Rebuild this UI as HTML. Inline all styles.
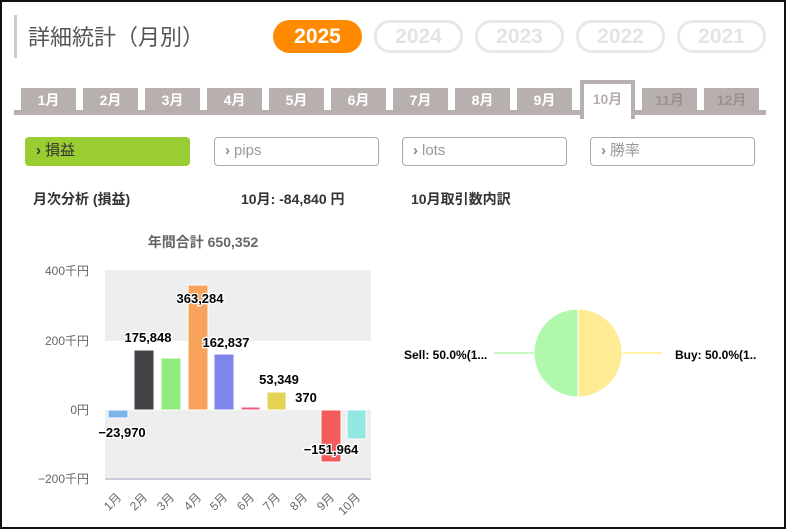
<!DOCTYPE html>
<html><head><meta charset="utf-8"><style>
body{margin:0;width:786px;height:529px;overflow:hidden;background:#fff;font-family:"Liberation Sans","Noto Sans CJK JP",sans-serif;}
.frame{position:absolute;left:0;top:0;width:782px;height:525px;border:2px solid #111;}
.a{position:absolute;}
.pill{position:absolute;top:20px;width:83px;height:27px;border:3px solid #e8e8e8;border-radius:16px;color:#e4e4e4;font-weight:bold;font-size:21px;text-align:center;line-height:27px;}
.tab{position:absolute;top:88px;width:55px;height:22px;background:#b8b0ae;color:#fff;font-weight:bold;font-size:14px;text-align:center;line-height:24px;}
.btn{position:absolute;top:137px;width:163px;height:27px;border:1px solid #aaa;border-radius:4px;color:#999;font-size:15px;line-height:25px;box-sizing:content-box;}
.btn span{font-weight:bold;margin:0 4px 0 10px;color:#888;}
</style></head><body>
<div class="frame"></div>
<div class="a" style="left:14px;top:15px;width:3px;height:43px;background:#ccc"></div>
<div class="a" style="left:28px;top:20px;font-size:22px;color:#555">詳細統計（月別）</div>
<div class="a" style="left:273px;top:20px;width:89px;height:33px;background:#ff8a00;border-radius:17px;color:#fff;font-weight:bold;font-size:21px;text-align:center;line-height:33px">2025</div>
<div class="pill" style="left:374px">2024</div>
<div class="pill" style="left:475px">2023</div>
<div class="pill" style="left:576px">2022</div>
<div class="pill" style="left:677px">2021</div>
<div class="a" style="left:14px;top:110px;width:752px;height:5px;background:#b8b0ae"></div>
<div class="tab" style="left:21px">1月</div>
<div class="tab" style="left:83px">2月</div>
<div class="tab" style="left:145px">3月</div>
<div class="tab" style="left:207px">4月</div>
<div class="tab" style="left:269px">5月</div>
<div class="tab" style="left:331px">6月</div>
<div class="tab" style="left:393px">7月</div>
<div class="tab" style="left:455px">8月</div>
<div class="tab" style="left:517px">9月</div>
<div class="a" style="left:580px;top:80px;width:47px;height:35px;border:4px solid #b8b0ae;border-bottom:none;background:#fff;color:#b8b0ae;font-weight:bold;font-size:14px;text-align:center;line-height:30px">10月</div>
<div class="tab" style="left:642px;color:#9a9290">11月</div>
<div class="tab" style="left:704px;color:#9a9290">12月</div>
<div class="btn" style="left:25px;background:#9acd32;border-color:#9acd32;color:#333"><span style="color:#333">›</span>損益</div>
<div class="btn" style="left:214px"><span>›</span>pips</div>
<div class="btn" style="left:402px"><span>›</span>lots</div>
<div class="btn" style="left:590px"><span>›</span>勝率</div>
<div class="a" style="left:33px;top:189px;font-size:14px;font-weight:bold;color:#333">月次分析 (損益)</div>
<div class="a" style="left:241px;top:189px;font-size:14px;font-weight:bold;color:#333">10月:  -84,840 円</div>
<div class="a" style="left:411px;top:189px;font-size:14px;font-weight:bold;color:#333">10月取引数内訳</div>
<svg class="a" style="left:0;top:0" width="786" height="529" font-family="Liberation Sans,Noto Sans CJK JP,sans-serif">
<text x="203" y="247" text-anchor="middle" font-size="14" font-weight="bold" fill="#666">年間合計 650,352</text>
<rect x="105" y="270" width="266" height="71" fill="#eeeeee"/>
<rect x="105" y="410" width="266" height="69" fill="#eeeeee"/>
<line x1="105" y1="479" x2="371" y2="479" stroke="#ccd" stroke-width="2"/>
<g font-size="12" fill="#666" text-anchor="end">
<text x="89" y="275">400千円</text><text x="89" y="345">200千円</text><text x="89" y="414">0円</text><text x="89" y="483">−200千円</text></g>
<g stroke="#fff" stroke-width="1">
<rect x="108" y="410" width="20" height="8" fill="#7cb5ec"/>
<rect x="134" y="350" width="20" height="60" fill="#434348"/>
<rect x="161" y="358" width="20" height="52" fill="#90ed7d"/>
<rect x="188" y="285" width="20" height="125" fill="#f7a35c"/>
<rect x="214" y="354" width="20" height="56" fill="#8085e9"/>
<rect x="241" y="407" width="19" height="3" fill="#f15c80"/>
<rect x="267" y="392" width="19" height="18" fill="#e4d354"/>
<rect x="321" y="410" width="20" height="52" fill="#f45b5b"/>
<rect x="347" y="410" width="19" height="29" fill="#91e8e1"/>
</g>
<g font-size="13" font-weight="bold" fill="#000" stroke="#fff" stroke-width="2.5" paint-order="stroke" text-anchor="middle">
<text x="122" y="437">−23,970</text>
<text x="148" y="342">175,848</text>
<text x="200" y="303">363,284</text>
<text x="226" y="347">162,837</text>
<text x="279" y="384">53,349</text>
<text x="306" y="402">370</text>
<text x="331" y="454">−151,964</text>
</g>
<g font-size="12" fill="#666">
<text transform="translate(122,498) rotate(-45)" text-anchor="end">1月</text>
<text transform="translate(148,498) rotate(-45)" text-anchor="end">2月</text>
<text transform="translate(175,498) rotate(-45)" text-anchor="end">3月</text>
<text transform="translate(202,498) rotate(-45)" text-anchor="end">4月</text>
<text transform="translate(228,498) rotate(-45)" text-anchor="end">5月</text>
<text transform="translate(255,498) rotate(-45)" text-anchor="end">6月</text>
<text transform="translate(281,498) rotate(-45)" text-anchor="end">7月</text>
<text transform="translate(308,498) rotate(-45)" text-anchor="end">8月</text>
<text transform="translate(335,498) rotate(-45)" text-anchor="end">9月</text>
<text transform="translate(361,498) rotate(-45)" text-anchor="end">10月</text>
</g>
<line x1="494" y1="353" x2="534" y2="353" stroke="#b0f5a6" stroke-width="1.5"/>
<line x1="622" y1="353" x2="662" y2="353" stroke="#ffec8f" stroke-width="1.5"/>
<path d="M578,309 A44,44 0 0 0 578,397 Z" fill="#b0f9ac" stroke="#fff"/>
<path d="M578,309 A44,44 0 0 1 578,397 Z" fill="#ffeb94" stroke="#fff"/>
<text x="404" y="359" font-size="12" font-weight="bold" fill="#000">Sell: 50.0%(1...</text>
<text x="675" y="359" font-size="12" font-weight="bold" fill="#000">Buy: 50.0%(1..</text>
</svg>
</body></html>
